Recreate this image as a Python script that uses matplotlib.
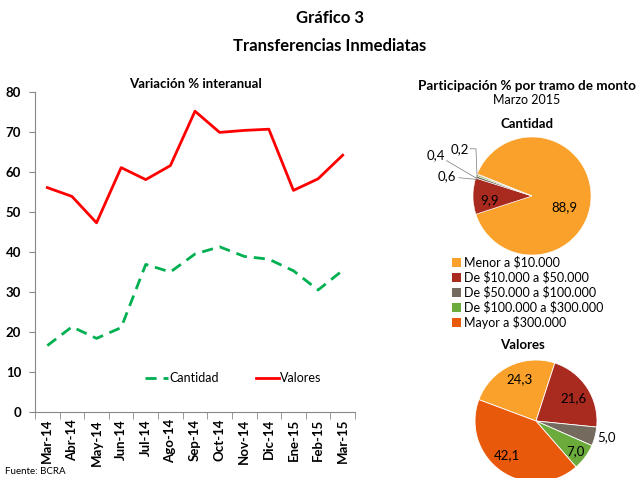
import matplotlib.pyplot as plt
import numpy as np
from matplotlib.patches import Patch

plt.rcParams['font.family'] = ['Lato', 'DejaVu Sans']

meses = ['Mar-14', 'Abr-14', 'May-14', 'Jun-14', 'Jul-14', 'Ago-14', 'Sep-14',
         'Oct-14', 'Nov-14', 'Dic-14', 'Ene-15', 'Feb-15', 'Mar-15']
cantidad = [16.6, 21.3, 18.4, 21.1, 36.9, 35.0, 39.5, 41.3, 38.9, 38.2, 35.3, 30.5, 35.4]
valores = [56.1, 53.9, 47.3, 61.1, 58.1, 61.6, 75.2, 69.9, 70.4, 70.7, 55.4, 58.3, 64.2]

tramos = ['Menor a \\$10.000', 'De \\$10.000 a \\$50.000', 'De \\$50.000 a \\$100.000',
          'De \\$100.000 a \\$300.000', 'Mayor a \\$300.000']
part_cantidad = [88.9, 9.9, 0.6, 0.4, 0.2]
part_valores = [24.3, 21.6, 5.0, 7.0, 42.1]
colores = ['#F9A12A', '#A92A1F', '#756A5E', '#6AAB3B', '#E9590B']

W, H = 637, 478
fig = plt.figure(figsize=(W / 100, H / 100), dpi=100)


def px_axes(x0, y0, x1, y1):
    # rectangulo en pixeles (origen arriba a la izquierda)
    return fig.add_axes([x0 / W, 1 - y1 / H, (x1 - x0) / W, (y1 - y0) / H])


fig.text(330 / W, 1 - 18 / H, 'Gráfico 3', ha='center', va='center',
         fontsize=12, fontweight='bold')
fig.text(330 / W, 1 - 46 / H, 'Transferencias Inmediatas', ha='center', va='center',
         fontsize=12, fontweight='bold')

# ---- lineas
ax = px_axes(35, 92, 355, 412)
x = np.arange(len(meses))
ax.plot(x, cantidad, color='#00B050', lw=2, dashes=(4, 2.5), label='Cantidad')
ax.plot(x, valores, color='#FF0000', lw=2, label='Valores')
ax.set_xlim(-0.5, len(meses) - 0.5)
ax.set_ylim(0, 80)
ax.set_yticks(range(0, 81, 10))
ax.set_xticks(x)
ax.set_xticklabels(meses, rotation=90, fontweight='bold', fontsize=9.5)
ax.set_xticks(np.arange(-0.5, len(meses), 1), minor=True)
ax.tick_params(axis='x', which='major', length=0, pad=5)
ax.tick_params(axis='x', which='minor', length=5, color='#888888', direction='out')
ax.tick_params(axis='y', length=4, color='#888888', labelsize=9.5, pad=6)
for t in ax.get_yticklabels():
    t.set_fontweight('bold')
for s in ['top', 'right']:
    ax.spines[s].set_visible(False)
for s in ['left', 'bottom']:
    ax.spines[s].set_color('#888888')
ax.set_title('Variación % interanual', fontsize=9.5, fontweight='bold', pad=3)
ax.legend(loc='center', bbox_to_anchor=(0.62, 0.106), ncol=2, frameon=False,
          fontsize=9, handlelength=1.8, columnspacing=3, handletextpad=0.1)

fig.text(5 / W, 1 - 472 / H, 'Fuente: BCRA', fontsize=7, va='center')

# ---- tortas
fig.text(527 / W, 1 - 86 / H, 'Participación % por tramo de monto', ha='center',
         va='center', fontsize=9.7, fontweight='bold')
fig.text(527 / W, 1 - 100 / H, 'Marzo 2015', ha='center', va='center', fontsize=9)
fig.text(527 / W, 1 - 124 / H, 'Cantidad', ha='center', va='center',
         fontsize=9.5, fontweight='bold')
fig.text(522 / W, 1 - 345 / H, 'Valores', ha='center', va='center',
         fontsize=9.5, fontweight='bold')

ax1 = px_axes(532 - 59, 196 - 59, 532 + 59, 196 + 59)
ax1.pie(part_cantidad, colors=colores, startangle=158, counterclock=False,
        wedgeprops=dict(edgecolor='white', linewidth=0.4))
ax1.set_xlim(-1, 1)
ax1.set_ylim(-1, 1)
ax1.set_aspect('auto')
ax1.axis('off')
pos_cant = [(0.55, -0.19), (-0.72, -0.07), (-1.45, 0.33), (-1.63, 0.69), (-1.22, 0.8)]
for v, (px, py) in zip(part_cantidad, pos_cant):
    ax1.text(px, py, f'{v:.1f}'.replace('.', ','), ha='center', va='center',
             fontsize=9.5, clip_on=False)
# lineas guia de las etiquetas chicas
guias = [[(-1.24, 0.31), (-0.93, 0.28)],
         [(-1.45, 0.6), (-0.94, 0.3)],
         [(-1.05, 0.8), (-0.95, 0.8), (-0.93, 0.31)]]
for g in guias:
    gx, gy = zip(*g)
    ax1.plot(gx, gy, color='#777777', lw=0.5, clip_on=False)

ax2 = px_axes(536 - 61, 421 - 61, 536 + 61, 421 + 61)
ax2.pie(part_valores, colors=colores, startangle=159.5, counterclock=False,
        wedgeprops=dict(edgecolor='white', linewidth=0.6))
ax2.set_xlim(-1, 1)
ax2.set_ylim(-1, 1)
ax2.set_aspect('auto')
ax2.axis('off')
pos_val = [(-0.27, 0.69), (0.61, 0.38), (1.16, -0.26), (0.64, -0.49), (-0.48, -0.56)]
for v, (px, py) in zip(part_valores, pos_val):
    ax2.text(px, py, f'{v:.1f}'.replace('.', ','), ha='center', va='center',
             fontsize=9.5, clip_on=False)

handles = [Patch(facecolor=c, edgecolor='none') for c in colores]
fig.legend(handles, tramos, loc='upper left', bbox_to_anchor=(452 / W, 1 - 256 / H),
           frameon=False, fontsize=9, handlelength=0.7, handleheight=0.7,
           handletextpad=0.3, labelspacing=0.2, borderaxespad=0, borderpad=0)

fig.savefig('out.png', dpi=100)
